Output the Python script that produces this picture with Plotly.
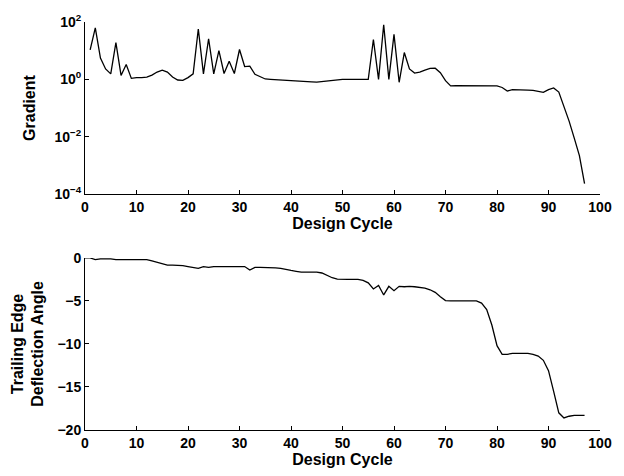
import plotly.graph_objects as go

# ---- data ----
cycles_grad = list(range(1, 98))
gradient = [
    10.7, 62, 5.5, 2.3, 1.55, 19, 1.37, 3.3, 1.08, 1.15,
    1.15, 1.2, 1.4, 1.8, 2.1, 1.8, 1.2, 0.95, 0.92, 1.15,
    1.55, 57, 1.55, 26, 1.55, 10, 1.6, 4.3, 1.6, 11,
    2.8, 2.9, 1.5, 1.25, 1.03, 1.0, 0.98, 0.97, 0.96, 0.94,
    0.92, 0.89, 0.85, 0.82, 0.80, 0.84, 0.9, 0.96, 0.99, 1.0,
    1.0, 1.0, 1.0, 1.0, 1.0, 24.6, 1.0, 80, 1.0, 37,
    0.79, 8.6, 2.3, 1.65, 1.8, 2.1, 2.4, 2.45, 1.7, 0.9,
    0.59, 0.6, 0.6, 0.6, 0.61, 0.61, 0.6, 0.6, 0.6, 0.59,
    0.52, 0.39, 0.44, 0.44, 0.43, 0.42, 0.41, 0.37, 0.35, 0.44,
    0.5, 0.36, 0.12, 0.035, 0.0089, 0.0022, 0.00023,
]

cycles_angle = list(range(0, 98))
angle = [
    0.0, 0.0, -0.2, -0.1, -0.1, -0.1, -0.2, -0.2, -0.2, -0.2,
    -0.2, -0.2, -0.2, -0.35, -0.5, -0.72, -0.84, -0.84, -0.84, -0.9,
    -1.0, -1.1, -1.22, -1.0, -1.1, -1.0, -1.0, -1.0, -1.0, -1.0,
    -1.05, -1.0, -1.4, -1.1, -1.1, -1.1, -1.1, -1.15, -1.22, -1.3,
    -1.45, -1.55, -1.64, -1.64, -1.64, -1.64, -1.75, -2.0, -2.3, -2.45,
    -2.5, -2.5, -2.5, -2.5, -2.6, -2.9, -3.6, -3.2, -4.3, -3.3,
    -3.8, -3.3, -3.35, -3.3, -3.35, -3.4, -3.5, -3.7, -4.0, -4.5,
    -4.95, -5.0, -5.0, -4.95, -4.95, -4.95, -5.0, -5.25, -6.0, -7.8,
    -10.2, -11.2, -11.2, -11.1, -11.1, -11.1, -11.1, -11.2, -11.4, -11.9,
    -13.1, -15.5, -18.0, -18.6, -18.4, -18.3, -18.3, -18.3,
]

x_ticks = [0, 10, 20, 30, 40, 50, 60, 70, 80, 90, 100]
grad_ticks = [1e-4, 1e-2, 1, 1e2]
grad_ticktext = ["10<sup>\u22124</sup>", "10<sup>\u22122</sup>", "10<sup>0</sup>", "10<sup>2</sup>"]
angle_ticks = [0, -5, -10, -15, -20]
angle_ticktext = ["0", "\u22125", "\u221210", "\u221215", "\u221220"]

FONT = "Liberation Sans"
tickfont = dict(family=FONT, size=14, color="black", weight="bold")
titlefont = dict(family=FONT, size=16, color="black", weight="bold")

fig = go.Figure()
fig.add_trace(go.Scatter(x=cycles_grad, y=gradient, mode="lines",
                         line=dict(color="black", width=1.3),
                         xaxis="x", yaxis="y", showlegend=False))
fig.add_trace(go.Scatter(x=cycles_angle, y=angle, mode="lines",
                         line=dict(color="black", width=1.3),
                         xaxis="x2", yaxis="y2", showlegend=False))

axis_common = dict(showline=True, linecolor="black", linewidth=1,
                   ticks="inside", ticklen=4, tickcolor="black",
                   showgrid=False, zeroline=False, mirror=False,
                   tickfont=tickfont)

fig.update_layout(
    width=624, height=476,
    margin=dict(l=85, r=12, t=15, b=46),
    paper_bgcolor="white", plot_bgcolor="white",
    xaxis=dict(domain=[0, 1], anchor="y", range=[0, 100], tickvals=x_ticks,
               ticklabelstandoff=0,
               title=dict(text="Design Cycle", font=titlefont, standoff=0),
               **axis_common),
    yaxis=dict(domain=[0.5783, 1], anchor="x", type="log", range=[-4, 2],
               tickvals=grad_ticks, ticktext=grad_ticktext,
               title=dict(text="Gradient", font=titlefont, standoff=14),
               **axis_common),
    xaxis2=dict(domain=[0, 1], anchor="y2", range=[0, 100], tickvals=x_ticks,
                ticklabelstandoff=0,
                title=dict(text="Design Cycle", font=titlefont, standoff=0),
                **axis_common),
    yaxis2=dict(domain=[0, 0.4217], anchor="x2", range=[-20, 0],
                tickvals=angle_ticks, ticktext=angle_ticktext,
                title=dict(text="Trailing Edge<br>Deflection Angle", font=titlefont, standoff=9),
                **axis_common),
)

fig.write_html("out.html")
